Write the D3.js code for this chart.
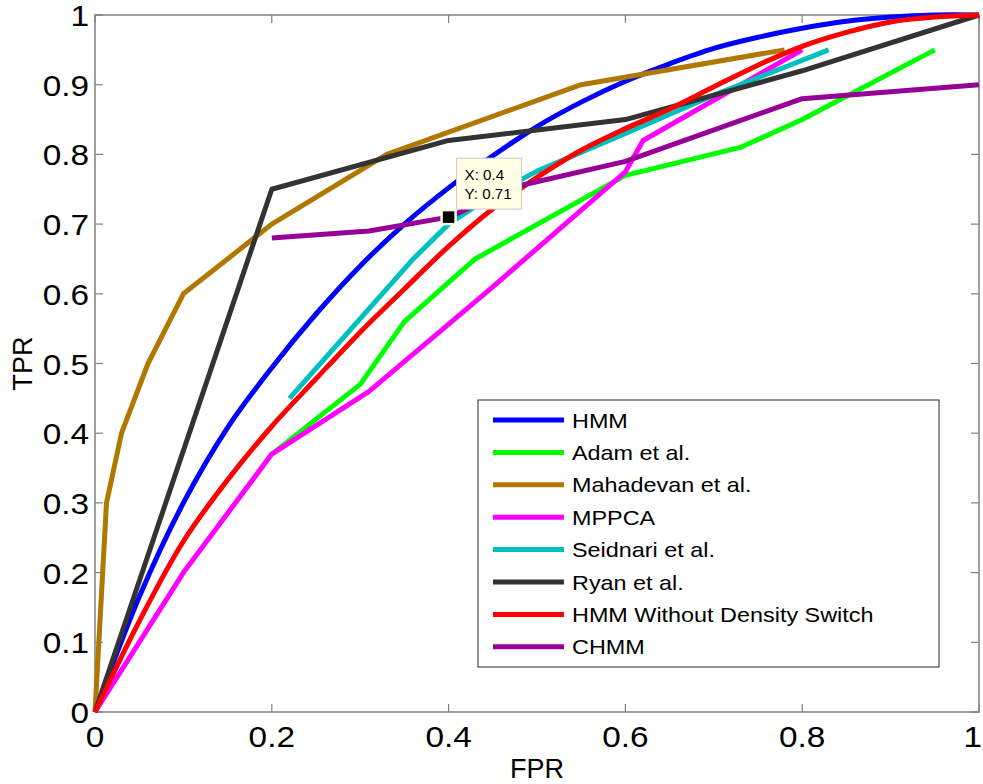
<!DOCTYPE html>
<html>
<head>
<meta charset="utf-8">
<script src="https://cdn.jsdelivr.net/npm/d3@7/dist/d3.min.js"></script>
<style>
  html, body { margin: 0; padding: 0; background: #fff; }
  svg { display: block; font-family: Arial, "Liberation Sans", Helvetica, sans-serif; }
</style>
</head>
<body>
<svg id="chart" width="983" height="784"></svg>
<script>
// ---- data ----
const seriesNames = ["HMM", "Adam et al.", "Mahadevan et al.", "MPPCA", "Seidnari et al.", "Ryan et al.", "HMM Without Density Switch", "CHMM"];
const seriesColors = ["#0000ff", "#00ff00", "#b07800", "#ff00ff", "#00bfbf", "#333333", "#ff0000", "#960096"];
const smoothSeries = ["HMM", "HMM Without Density Switch"];

const hmm = [[0,0],[0.05,0.165],[0.1,0.3],[0.15,0.408],[0.2,0.494],[0.25,0.571],[0.3,0.64],[0.35,0.7],[0.4,0.752],[0.45,0.798],[0.5,0.84],[0.55,0.875],[0.6,0.905],[0.65,0.93],[0.7,0.952],[0.75,0.968],[0.8,0.981],[0.85,0.991],[0.9,0.997],[0.95,1],[1,1]];
const adam = [[0.2,0.37],[0.3,0.47],[0.35,0.56],[0.43,0.65],[0.6,0.77],[0.73,0.81],[0.8,0.85],[0.95,0.95]];
const mahadevan = [[0,0],[0.013,0.3],[0.03,0.4],[0.06,0.5],[0.1,0.6],[0.2,0.7],[0.33,0.8],[0.55,0.9],[0.78,0.95]];
const mppca = [[0,0],[0.1,0.2],[0.2,0.37],[0.31,0.46],[0.45,0.61],[0.6,0.775],[0.62,0.82],[0.8,0.95]];
const seidnari = [[0.22,0.45],[0.36,0.65],[0.4,0.7],[0.45,0.742],[0.5,0.776],[0.6,0.83],[0.7,0.885],[0.83,0.95]];
const ryan = [[0,0],[0.2,0.75],[0.4,0.82],[0.6,0.85],[0.8,0.92],[1,1]];
const hmmNoDS = [[0,0],[0.05,0.13],[0.1,0.245],[0.15,0.333],[0.2,0.41],[0.25,0.478],[0.3,0.545],[0.35,0.607],[0.4,0.668],[0.45,0.722],[0.5,0.767],[0.55,0.806],[0.6,0.837],[0.65,0.865],[0.7,0.897],[0.75,0.928],[0.8,0.955],[0.85,0.975],[0.9,0.99],[0.95,0.997],[1,1]];
const chmm = [[0.2,0.68],[0.31,0.69],[0.4,0.71],[0.48,0.755],[0.6,0.79],[0.8,0.88],[1,0.9]];
const seriesValues = [hmm, adam, mahadevan, mppca, seidnari, ryan, hmmNoDS, chmm];

const xTicks = [0, 0.2, 0.4, 0.6, 0.8, 1];
const yTicks = [0, 0.1, 0.2, 0.3, 0.4, 0.5, 0.6, 0.7, 0.8, 0.9, 1];
const dataTip = { x: 0.4, y: 0.71, labels: ["X: 0.4", "Y: 0.71"] };

// ---- layout ----
const W = 983;
const L = 95, R = 979, T = 15, B = 712;
const svg = d3.select("#chart");
const x = d3.scaleLinear().domain([0, 1]).range([L, R]);
const y = d3.scaleLinear().domain([0, 1]).range([B, T]);
const axisColor = "#808080";
const tickLen = 8;

// frame
svg.append("rect").attr("x", L).attr("y", T).attr("width", R - L).attr("height", B - T)
  .attr("fill", "#fff").attr("stroke", axisColor).attr("stroke-width", 1.5);

// ticks (inward on all sides)
const tk = svg.append("g").attr("stroke", axisColor).attr("stroke-width", 1.2);
xTicks.forEach(v => {
  tk.append("line").attr("x1", x(v)).attr("x2", x(v)).attr("y1", B).attr("y2", B - tickLen);
  tk.append("line").attr("x1", x(v)).attr("x2", x(v)).attr("y1", T).attr("y2", T + tickLen);
});
yTicks.forEach(v => {
  tk.append("line").attr("y1", y(v)).attr("y2", y(v)).attr("x1", L).attr("x2", L + tickLen);
  tk.append("line").attr("y1", y(v)).attr("y2", y(v)).attr("x1", R).attr("x2", R - tickLen);
});

function stretchedText(parent, tx, ty, txt, size, anchor, sx) {
  const g = parent.append("g").attr("transform", `translate(${tx},${ty}) scale(${sx},1)`);
  const t = g.append("text").attr("x", 0).attr("y", 0).attr("font-size", size)
    .attr("text-anchor", anchor).attr("fill", "#000").text(txt);
  return { g, t, tx, ty, sx };
}

// tick labels
const fmt = v => (v === 0 ? "0" : v === 1 ? "1" : String(v));
xTicks.forEach(v => {
  const o = stretchedText(svg, x(v), B + 35, fmt(v), 29, "middle", 1.15);
  const bb = o.t.node().getBBox();
  const right = o.tx + (bb.x + bb.width) * o.sx;
  if (right > W - 1) {
    o.g.attr("transform", `translate(${o.tx - (right - (W - 1))},${o.ty}) scale(${o.sx},1)`);
  }
});
yTicks.forEach(v => stretchedText(svg, L - 6, y(v) + 11, fmt(v), 29, "end", 1.15));

// axis titles
svg.append("text").attr("x", (L + R) / 2).attr("y", 778).attr("font-size", 27)
  .attr("text-anchor", "middle").text("FPR");
svg.append("text").attr("transform", `translate(32,${(T + B) / 2}) rotate(-90)`)
  .attr("font-size", 27).attr("text-anchor", "middle").text("TPR");

// lines
const clip = svg.append("defs").append("clipPath").attr("id", "clip");
clip.append("rect").attr("x", L - 3).attr("y", T - 3).attr("width", R - L + 6).attr("height", B - T + 6);
const lines = svg.append("g").attr("clip-path", "url(#clip)");
seriesNames.forEach((name, i) => {
  const gen = d3.line().x(d => x(d[0])).y(d => y(d[1]))
    .curve(smoothSeries.includes(name) ? d3.curveCatmullRom.alpha(0.5) : d3.curveLinear);
  lines.append("path").datum(seriesValues[i]).attr("d", gen)
    .attr("fill", "none").attr("stroke", seriesColors[i]).attr("stroke-width", 5)
    .attr("stroke-linejoin", "round").attr("stroke-linecap", "butt");
});

// data tip
const px = x(dataTip.x), py = y(dataTip.y);
svg.append("rect").attr("x", px - 7).attr("y", py - 7).attr("width", 14).attr("height", 14)
  .attr("fill", "#000").attr("stroke", "#ffffe0").attr("stroke-width", 2.5);
svg.append("rect").attr("x", px + 8).attr("y", py - 59).attr("width", 65).attr("height", 51)
  .attr("fill", "#ffffe6").attr("stroke", "#c8c8c8").attr("stroke-width", 1);
dataTip.labels.forEach((t, i) => stretchedText(svg, px + 16, py - 37 + i * 19, t, 14, "start", 1.08));

// legend
const lg = svg.append("g");
lg.append("rect").attr("x", 478).attr("y", 400).attr("width", 461).attr("height", 267)
  .attr("fill", "#fff").attr("stroke", "#262626").attr("stroke-width", 1);
seriesNames.forEach((name, i) => {
  const ry = 420 + i * 32.4;
  lg.append("line").attr("x1", 493).attr("x2", 564).attr("y1", ry).attr("y2", ry)
    .attr("stroke", seriesColors[i]).attr("stroke-width", 5);
  stretchedText(lg, 572, ry + 7.5, name, 20, "start", 1.17);
});
</script>
</body>
</html>
